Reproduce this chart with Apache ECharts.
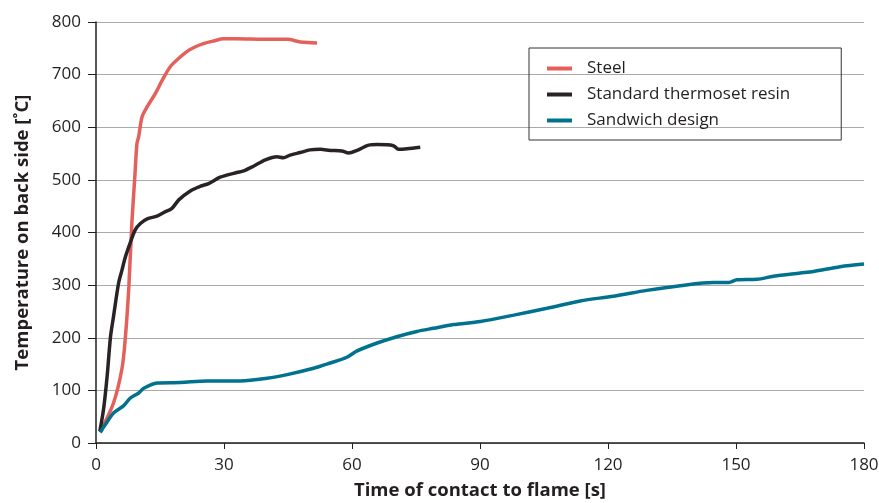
<!DOCTYPE html>
<html style="height: 100%;">
  <head>
    <meta charset="utf-8" />
    <script src="https://cdn.jsdelivr.net/npm/echarts@6/dist/echarts.min.js"></script>
    <style>
      html, body {
        margin: 0;
        padding: 0;
        width: 879px;
        height: 503px;
        background: #fff;
      }
      #chart {
        width: 879px;
        height: 503px;
      }
    </style>
  </head>
  <body>
    <div id="chart"></div>
    <script>
      // time [s] and temperature [°C]
      var steelTime = [1.0, 4.1, 6.1, 6.9, 7.7, 8.4, 9.1, 9.6, 10.0, 10.8, 12.0, 13.9, 15.5, 17.4, 19.4, 21.7, 23.3, 25.2, 27.6, 29.9, 33.0, 39.3, 44.8, 47.9, 51.8];
      var steelTemp = [22, 76, 142, 202, 297, 417, 506, 569, 582, 620, 639, 664, 689, 715, 731, 746, 753, 759, 764, 768, 768, 767, 767, 762, 760];

      var resinTime = [0.9, 1.8, 2.6, 3.4, 4.1, 5.3, 6.1, 6.9, 8.0, 9.2, 10.4, 12.0, 14.3, 15.9, 17.8, 19.4, 22.1, 24.5, 26.4, 29.1, 33.0, 34.6, 36.9, 39.7, 42.4, 43.9, 45.5, 47.9, 50.2, 52.6, 54.9, 57.6, 59.2, 61.2, 63.9, 65.9, 69.7, 70.9, 72.9, 76.0];
      var resinTemp = [22, 66, 126, 202, 240, 304, 329, 354, 380, 405, 417, 426, 431, 438, 446, 462, 479, 488, 493, 505, 514, 517, 526, 538, 544, 542, 547, 552, 557, 558, 556, 555, 551, 556, 566, 567, 565, 558, 559, 562];

      var sandwichTime = [1.0, 2.2, 4.1, 6.5, 8.0, 10.0, 11.2, 14.3, 19.8, 26.0, 33.8, 40.1, 44.8, 51.0, 54.9, 58.8, 61.2, 65.9, 70.5, 75.2, 79.1, 83.8, 90.1, 97.9, 105.7, 113.5, 121.3, 129.1, 136.9, 144.7, 148.3, 150.2, 154.9, 158.8, 165.1, 168.2, 174.4, 180.0];
      var sandwichTemp = [20, 35, 57, 71, 85, 95, 104, 114, 115, 118, 118, 123, 130, 142, 152, 163, 175, 190, 202, 212, 218, 225, 231, 243, 256, 270, 279, 290, 299, 305, 305, 310, 311, 317, 323, 326, 335, 340];

      var seriesNames = ['Steel', 'Standard thermoset resin', 'Sandwich design'];
      var seriesColors = ['#e4615b', '#2a2325', '#00728e'];

      function pairs(xs, ys) {
        return xs.map(function (x, i) { return [x, ys[i]]; });
      }

      var font = 'Open Sans';
      var chart = echarts.init(document.getElementById('chart'));
      var option = {
        animation: false,
        grid: { left: 96, right: 15, top: 22, bottom: 60, outerBoundsMode: 'none', containLabel: false },
        legend: {
          orient: 'vertical',
          left: 529,
          top: 48,
          padding: [12, 51, 11, 18],
          itemWidth: 25,
          itemHeight: 4,
          itemGap: 9,
          icon: 'rect',
          borderColor: '#333',
          borderWidth: 1,
          borderRadius: 0,
          textStyle: { fontFamily: font, fontSize: 17, color: '#231f20', padding: [0, 0, 0, 10] },
          data: seriesNames
        },
        xAxis: {
          type: 'value',
          min: 0,
          max: 180,
          interval: 30,
          name: 'Time of contact to flame [s]',
          nameLocation: 'middle',
          nameGap: 38,
          nameTextStyle: { fontFamily: font, fontSize: 18.5, fontWeight: 'bold', color: '#231f20' },
          axisLine: { lineStyle: { color: '#231f20', width: 1.5 } },
          axisTick: { show: true, length: 6, lineStyle: { color: '#231f20' } },
          axisLabel: { fontFamily: font, fontSize: 17, color: '#231f20', margin: 14 },
          splitLine: { show: false }
        },
        yAxis: {
          type: 'value',
          min: 0,
          max: 800,
          interval: 100,
          name: 'Temperature on back side [˚C]',
          nameLocation: 'middle',
          nameGap: 64,
          nameTextStyle: { fontFamily: font, fontSize: 18.5, fontWeight: 'bold', color: '#231f20' },
          axisLine: { show: true, lineStyle: { color: '#231f20', width: 1.5 } },
          axisTick: { show: true, length: 8, lineStyle: { color: '#231f20' } },
          axisLabel: { fontFamily: font, fontSize: 17, color: '#231f20', margin: 15 },
          splitLine: { lineStyle: { color: '#aaaaaa', width: 1.2 } }
        },
        series: [
          {
            name: seriesNames[0], type: 'line', showSymbol: false, smooth: 0.3,
            lineStyle: { width: 3.5, color: seriesColors[0] }, itemStyle: { color: seriesColors[0] },
            data: pairs(steelTime, steelTemp)
          },
          {
            name: seriesNames[1], type: 'line', showSymbol: false, smooth: 0.3,
            lineStyle: { width: 3.5, color: seriesColors[1] }, itemStyle: { color: seriesColors[1] },
            data: pairs(resinTime, resinTemp)
          },
          {
            name: seriesNames[2], type: 'line', showSymbol: false, smooth: 0.3,
            lineStyle: { width: 3.5, color: seriesColors[2] }, itemStyle: { color: seriesColors[2] },
            data: pairs(sandwichTime, sandwichTemp)
          }
        ]
      };
      chart.setOption(option);
    </script>
  </body>
</html>
